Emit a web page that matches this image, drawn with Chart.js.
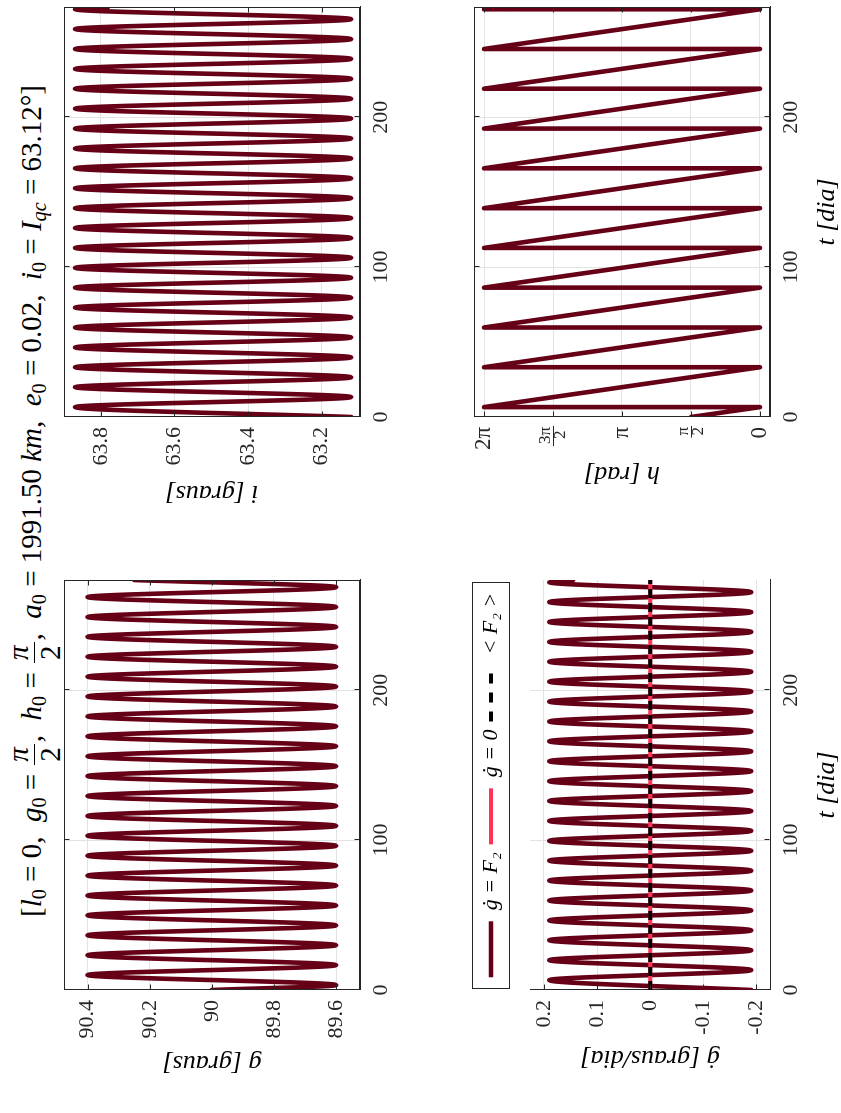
<!DOCTYPE html>
<html><head><meta charset="utf-8">
<script src="https://cdn.jsdelivr.net/npm/chart.js@4.4.1/dist/chart.umd.min.js"></script>
<style>
html,body{margin:0;padding:0;background:#fff;overflow:hidden;width:841px;height:1113px}
#fig{position:absolute;left:0;top:0;width:1113px;height:841px;transform-origin:0 0;transform:translate(0,1113px) rotate(-90deg);background:#fff}
#fig canvas{position:absolute;left:0;top:0}
#title{position:absolute;left:194px;width:836px;top:8px;height:52px;display:flex;align-items:center;justify-content:center;white-space:nowrap;font-family:'Liberation Serif','DejaVu Serif',serif;font-size:24px;color:#000}
.frac{display:inline-flex;flex-direction:column;align-items:center;vertical-align:middle;line-height:1;margin:0 2px}
.frac .num{border-bottom:1.4px solid #000;padding:0 3px 1px;font-style:italic}
.frac .den{padding-top:1px}
sub{font-size:0.7em;vertical-align:-0.25em;line-height:0;font-style:normal}
</style></head>
<body>
<div id="fig">
  <div id="title"><span id="tt">[<i>l</i><sub>0</sub> = 0, &nbsp;<i>g</i><sub>0</sub> = <span class="frac"><span class="num">π</span><span class="den">2</span></span>, &nbsp;<i>h</i><sub>0</sub> = <span class="frac"><span class="num">π</span><span class="den">2</span></span>, &nbsp;<i>a</i><sub>0</sub> = 1991.50 <i>km</i>, &nbsp;<i>e</i><sub>0</sub> = 0.02, &nbsp;<i>i</i><sub>0</sub> = <i>I</i><sub><i>qc</i></sub> = 63.12°]</span></div>
  <canvas id="cg" width="1113" height="841"></canvas>
  <canvas id="ci" width="1113" height="841"></canvas>
  <canvas id="cd" width="1113" height="841"></canvas>
  <canvas id="ch" width="1113" height="841"></canvas>
</div>
<script>
// ---------------- data ----------------
const tMax = 273.5;
const tTicks = [0, 100, 200];
const tTickLabels = ['0', '100', '200'];

// times of the extrema of i and g-dot (every half period)
const tI = [0, 6.6, 13.3, 19.9, 26.5, 33.2, 39.8, 46.4, 53.1, 59.7, 66.4, 73.0, 79.6, 86.3, 92.9, 99.5, 106.2, 112.8, 119.4, 126.1, 132.7, 139.3, 146.0, 152.6, 159.2, 165.9, 172.5, 179.1, 185.8, 192.4, 199.1, 205.7, 212.3, 219.0, 225.6, 232.2, 238.9, 245.5, 252.1, 258.8, 265.4, 272.0, 273.5];
const iVals = [63.12, 63.87, 63.12, 63.87, 63.12, 63.87, 63.12, 63.87, 63.12, 63.87, 63.12, 63.87, 63.12, 63.87, 63.12, 63.87, 63.12, 63.87, 63.12, 63.87, 63.12, 63.87, 63.12, 63.87, 63.12, 63.87, 63.12, 63.87, 63.12, 63.87, 63.12, 63.87, 63.12, 63.87, 63.12, 63.87, 63.12, 63.87, 63.12, 63.87, 63.12, 63.87, 63.78];
const gdVals = [-0.19, 0.19, -0.19, 0.19, -0.19, 0.19, -0.19, 0.19, -0.19, 0.19, -0.19, 0.19, -0.19, 0.19, -0.19, 0.19, -0.19, 0.19, -0.19, 0.19, -0.19, 0.19, -0.19, 0.19, -0.19, 0.19, -0.19, 0.19, -0.19, 0.19, -0.19, 0.19, -0.19, 0.19, -0.19, 0.19, -0.19, 0.19, -0.19, 0.19, -0.19, 0.19, 0.145];

// times of the extrema of g
const tG = [0, 3.3, 10.0, 16.6, 23.2, 29.9, 36.5, 43.1, 49.8, 56.4, 63.0, 69.7, 76.3, 83.0, 89.6, 96.2, 102.9, 109.5, 116.1, 122.8, 129.4, 136.0, 142.7, 149.3, 155.9, 162.6, 169.2, 175.9, 182.5, 189.1, 195.8, 202.4, 209.0, 215.7, 222.3, 228.9, 235.6, 242.2, 248.8, 255.5, 262.1, 268.7, 273.5];
const gVals = [90, 89.6, 90.4, 89.6, 90.4, 89.6, 90.4, 89.6, 90.4, 89.6, 90.4, 89.6, 90.4, 89.6, 90.4, 89.6, 90.4, 89.6, 90.4, 89.6, 90.4, 89.6, 90.4, 89.6, 90.4, 89.6, 90.4, 89.6, 90.4, 89.6, 90.4, 89.6, 90.4, 89.6, 90.4, 89.6, 90.4, 89.6, 90.4, 89.6, 90.4, 89.6, 90.25];

// h (wrapped into [0, 2pi])
const tH = [0, 6.6, 6.6, 33.2, 33.2, 59.7, 59.7, 86.3, 86.3, 112.8, 112.8, 139.3, 139.3, 165.9, 165.9, 192.4, 192.4, 219.0, 219.0, 245.5, 245.5, 272.0, 272.0, 273.5];
const hVals = [1.571, 0, 6.283, 0, 6.283, 0, 6.283, 0, 6.283, 0, 6.283, 0, 6.283, 0, 6.283, 0, 6.283, 0, 6.283, 0, 6.283, 0, 6.283, 5.93];

// reference lines on the g-dot panel
const tRef = [0, 273.5];
const zeroVals = [0, 0];
const meanF2Vals = [0, 0];

// axis ticks
const gTicks = [89.6, 89.8, 90, 90.2, 90.4];
const gTickLabels = ['89.6', '89.8', '90', '90.2', '90.4'];
const iTicks = [63.2, 63.4, 63.6, 63.8];
const iTickLabels = ['63.2', '63.4', '63.6', '63.8'];
const gdTicks = [-0.2, -0.1, 0, 0.1, 0.2];
const gdTickLabels = ['-0.2', '-0.1', '0', '0.1', '0.2'];
const hTicks = [0, 1.5708, 3.1416, 4.7124, 6.2832];
const hTickLabels = ['0', ['π', '2'], 'π', ['3π', '2\u2009'], '2π'];

// ---------------- styling ----------------
const FONT = "'Liberation Serif','DejaVu Serif',serif";
const AX = '#262626', GRID = '#e3e3e3', CURVE = '#660017', RED = '#ff3355';
const TICK_FS = 22, TITLE_FS = 26, LEG_FS = 22, FRAC_FS = 17, SAMPLE_W = 56;

function pts(xs, ys) { return xs.map((x, k) => ({x: x, y: ys[k]})); }

const decor = {
  id: 'decor',
  afterDraw(chart, args, o) {
    const {ctx, chartArea: a, scales} = chart;
    ctx.save();
    ctx.strokeStyle = AX; ctx.lineWidth = 1;
    const L = Math.round(a.left) + 0.5, R = Math.round(a.right) - 0.5, T = Math.round(a.top) + 0.5, B = Math.round(a.bottom) - 0.5;
    if (o.box) ctx.strokeRect(L, T, R - L, B - T);
    const tl = 5;
    ctx.beginPath();
    scales.x.ticks.forEach(t => {
      const p = Math.round(scales.x.getPixelForValue(t.value)) + 0.5;
      ctx.moveTo(p, B); ctx.lineTo(p, B - tl);
      if (o.box) { ctx.moveTo(p, T); ctx.lineTo(p, T + tl); }
    });
    scales.y.ticks.forEach(t => {
      const p = Math.round(scales.y.getPixelForValue(t.value)) + 0.5;
      ctx.moveTo(L, p); ctx.lineTo(L + tl, p);
      if (o.box) { ctx.moveTo(R, p); ctx.lineTo(R - tl, p); }
    });
    ctx.stroke();
    if (o.legendBox) {
      const lg = chart.legend;
      ctx.strokeRect(L + 1, Math.round(lg.top) + 0.5, R - L - 3, 37);
      // line samples of the legend, in the dataset styles
      lg.legendHitBoxes.forEach((hb, k) => {
        const d = chart.data.datasets[lg.legendItems[k].datasetIndex];
        ctx.save();
        ctx.strokeStyle = d.borderColor; ctx.lineWidth = d.borderWidth; ctx.lineCap = 'butt';
        ctx.setLineDash(d.legendDash || d.borderDash || []);
        const y = hb.top + hb.height / 2;
        ctx.beginPath(); ctx.moveTo(hb.left, y); ctx.lineTo(hb.left + SAMPLE_W, y); ctx.stroke();
        ctx.restore();
      });
    }
    if (o.fracBars) {
      ctx.font = FRAC_FS + 'px ' + FONT;
      scales.y.ticks.forEach((t, k) => {
        const lab = hTickLabels[k];
        if (Array.isArray(lab)) {
          const w = ctx.measureText(lab[0]).width + 2;
          const y = Math.round(scales.y.getPixelForValue(t.value)) + 0.5;
          const xr = a.left - 10;
          ctx.beginPath(); ctx.moveTo(xr - w, y); ctx.lineTo(xr + 1, y); ctx.stroke();
        }
      });
    }
    ctx.restore();
  }
};

function xScale(showTitle, h) {
  return {
    type: 'linear', position: 'bottom', min: 0, max: tMax,
    afterBuildTicks: s => { s.ticks = tTicks.map(v => ({value: v})); },
    ticks: {callback: (v, k) => tTickLabels[k], font: {family: FONT, size: TICK_FS}, color: AX, padding: 8, maxRotation: 0, autoSkip: false},
    grid: {color: GRID, lineWidth: 1, drawTicks: false},
    border: {display: true, color: AX, width: 1},
    title: {display: showTitle, text: 't [dia]', font: {family: FONT, size: TITLE_FS, style: 'italic', lineHeight: 1}, color: '#000', padding: {top: 0, bottom: 0}},
    afterFit: s => { s.height = h; }
  };
}
function yScale(min, max, ticks, labels, title, w, font) {
  return {
    type: 'linear', position: 'left', min: min, max: max,
    afterBuildTicks: s => { s.ticks = ticks.map(v => ({value: v})); },
    ticks: {callback: (v, k) => labels[k], font: font || {family: FONT, size: TICK_FS}, color: AX, padding: 10, autoSkip: false},
    grid: {color: GRID, lineWidth: 1, drawTicks: false},
    border: {display: true, color: AX, width: 1},
    title: {display: true, text: title, font: {family: FONT, size: TITLE_FS, style: 'italic', lineHeight: 1}, color: '#000', padding: {top: 0, bottom: 0}},
    afterFit: s => { s.width = w; }
  };
}
function baseOptions(pad, scales, plug) {
  return {
    responsive: false, maintainAspectRatio: false, animation: false, devicePixelRatio: 1, events: [],
    layout: {padding: pad},
    scales: scales,
    plugins: Object.assign({legend: {display: false}, tooltip: {enabled: false}, title: {display: false}}, plug)
  };
}
function curve(label, xs, ys, extra) {
  return Object.assign({label: label, data: pts(xs, ys), borderColor: CURVE, backgroundColor: CURVE, borderWidth: 4.6, pointRadius: 0, fill: false, cubicInterpolationMode: 'monotone', borderJoinStyle: 'round', borderCapStyle: 'round'}, extra || {});
}

// g panel
new Chart(document.getElementById('cg'), {
  type: 'line',
  data: {datasets: [curve('g', tG, gVals)]},
  options: baseOptions({left: 37, right: 580, top: 64, bottom: 441},
    {x: xScale(false, 40), y: yScale(89.523, 90.476, gTicks, gTickLabels, 'g [graus]', 86)},
    {decor: {box: true}}),
  plugins: [decor]
});

// i panel
new Chart(document.getElementById('ci'), {
  type: 'line',
  data: {datasets: [curve('i', tI, iVals)]},
  options: baseOptions({left: 607, right: 7, top: 64, bottom: 441},
    {x: xScale(false, 40), y: yScale(63.096, 63.9, iTicks, iTickLabels, 'i [graus]', 89)},
    {decor: {box: true}}),
  plugins: [decor]
});

// h panel
new Chart(document.getElementById('ch'), {
  type: 'line',
  data: {datasets: [curve('h', tH, hVals, {cubicInterpolationMode: 'default', tension: 0})]},
  options: baseOptions({left: 626, right: 7, top: 474, bottom: 1},
    {x: xScale(true, 70), y: yScale(-0.228, 6.511, hTicks, hTickLabels, 'h [rad]', 70,
      c => ({family: FONT, size: Array.isArray(hTickLabels[c.index]) ? FRAC_FS : 23, lineHeight: Array.isArray(hTickLabels[c.index]) ? 0.92 : 1.2}))},
    {decor: {box: true, fracBars: true}}),
  plugins: [decor]
});

// g-dot panel
const gdScales = {
  x: xScale(true, 70),
  y: yScale(-0.2255, 0.2262, gdTicks, gdTickLabels, 'ġ [graus/dia]', 81),
  xTop: {type: 'linear', axis: 'x', position: 'top', display: true, ticks: {display: false}, grid: {display: false, drawTicks: false}, border: {display: false}, afterFit: s => { s.height = 18; }}
};
new Chart(document.getElementById('cd'), {
  type: 'line',
  data: {datasets: [
    curve('ġ = F₂', tI, gdVals, {order: 3}),
    {label: 'ġ = 0', data: pts(tRef, zeroVals), borderColor: RED, backgroundColor: RED, borderWidth: 4, pointRadius: 0, fill: false, order: 2},
    {label: '< F₂ >', data: pts(tRef, meanF2Vals), borderColor: '#000', backgroundColor: '#000', borderWidth: 4, borderDash: [9, 5], legendDash: [10, 9], pointRadius: 0, fill: false, order: 1}
  ]},
  options: baseOptions({left: 42, right: 580, top: 472, bottom: 1}, gdScales, {
    decor: {box: false, legendBox: true},
    legend: {
      display: true, position: 'top', fullSize: false, align: 'center',
      labels: {
        usePointStyle: false, boxWidth: SAMPLE_W, boxHeight: 4, padding: 8,
        font: {family: FONT, size: LEG_FS, style: 'italic'}, color: '#000',
        generateLabels: ch => ch.data.datasets.map((d, k) => ({
          text: d.label, fillStyle: 'rgba(0,0,0,0)', strokeStyle: 'rgba(0,0,0,0)', lineWidth: 0,
          fontColor: '#000', hidden: false, datasetIndex: k
        }))
      }
    }
  }),
  plugins: [decor]
});

// fit title width
(function () {
  const tt = document.getElementById('tt');
  const w = tt.getBoundingClientRect();
  const width = Math.max(w.width, w.height);
  if (width > 0) {
    const fs = 24 * 836 / width;
    document.getElementById('title').style.fontSize = fs.toFixed(2) + 'px';
  }
})();
</script>
</body></html>
